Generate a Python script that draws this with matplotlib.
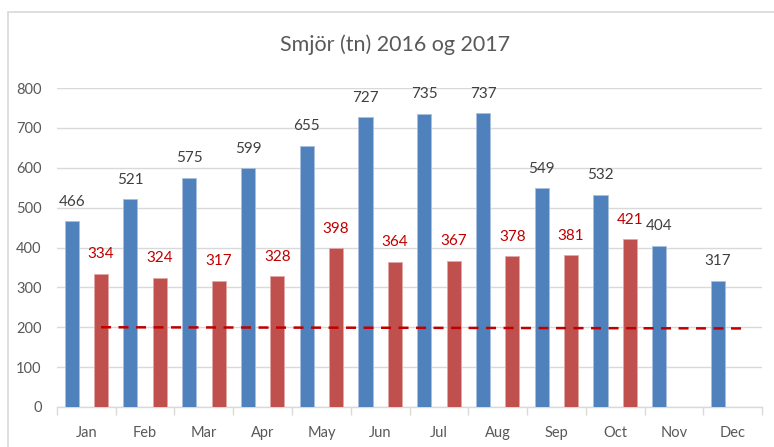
import numpy as np
import matplotlib
matplotlib.use("Agg")
import matplotlib.pyplot as plt
from matplotlib.patches import Rectangle

plt.rcParams['font.family'] = ['Lato', 'DejaVu Sans']

# --- gögn ---
months = ['Jan', 'Feb', 'Mar', 'Apr', 'May', 'Jun',
          'Jul', 'Aug', 'Sep', 'Oct', 'Nov', 'Dec']
smjor_2016 = [466, 521, 575, 599, 655, 727, 735, 737, 549, 532, 404, 317]
smjor_2017 = [334, 324, 317, 328, 398, 364, 367, 378, 381, 421]
ref_line = [200, 197]  # strikuð lína, frá Jan til Dec

blue = '#4F81BD'
red = '#C0504D'
grey_txt = '#595959'

fig = plt.figure(figsize=(7.74, 4.47), dpi=100)
ax = fig.add_axes([0.0736, 0.0895, 0.911, 0.7136])

x = np.arange(len(months))
w = 0.24
off = 0.25

b1 = ax.bar(x - off, smjor_2016, width=w, color=blue, edgecolor='#A9C0DE',
            linewidth=0.6, zorder=3)
x2 = np.arange(len(smjor_2017))
b2 = ax.bar(x2 + off, smjor_2017, width=w, color=red, edgecolor='#E0A9A7',
            linewidth=0.6, zorder=3)

for xi, v in zip(x - off, smjor_2016):
    ax.annotate(str(v), (xi, v), xytext=(0, 14), textcoords='offset points',
                ha='center', va='center', fontsize=11, color='#404040')
for xi, v in zip(x2 + off, smjor_2017):
    ax.annotate(str(v), (xi, v), xytext=(0, 14), textcoords='offset points',
                ha='center', va='center', fontsize=11, color='#C00000')

# strikuð viðmiðunarlína
ax.plot([x[0] + off, x[-1] + off], ref_line, color='#C00000',
        linestyle=(0, (4, 3)), linewidth=1.8, zorder=4)

ax.set_xlim(-0.5, len(months) - 0.5)
ax.set_ylim(0, 800)
ax.set_yticks(np.arange(0, 801, 100))
ax.grid(axis='y', color='#D9D9D9', linewidth=1, zorder=0)

ax.set_xticks(x)
ax.set_xticklabels(months)
ax.set_xticks(np.arange(-0.5, len(months), 1), minor=True)
ax.tick_params(axis='x', which='major', length=0, pad=14, labelsize=10.5,
               labelcolor=grey_txt)
ax.tick_params(axis='x', which='minor', length=6, color='#D9D9D9', width=1)
ax.tick_params(axis='y', length=0, pad=11, labelsize=10.5, labelcolor=grey_txt)

for s in ['top', 'right', 'left']:
    ax.spines[s].set_visible(False)
ax.spines['bottom'].set_color('#D9D9D9')
ax.spines['bottom'].set_linewidth(1)

fig.text(0.51, 0.9, 'Smjör (tn) 2016 og 2017', ha='center', va='center',
         fontsize=15.5, color=grey_txt)

# rammi utan um myndina
fig.patches.append(Rectangle((7.5 / 774, -0.05), 1.1, 1.05 - 12 / 447,
                             transform=fig.transFigure, fill=False,
                             edgecolor='#D9D9D9', linewidth=1.2))

fig.savefig('out.png', dpi=100)
